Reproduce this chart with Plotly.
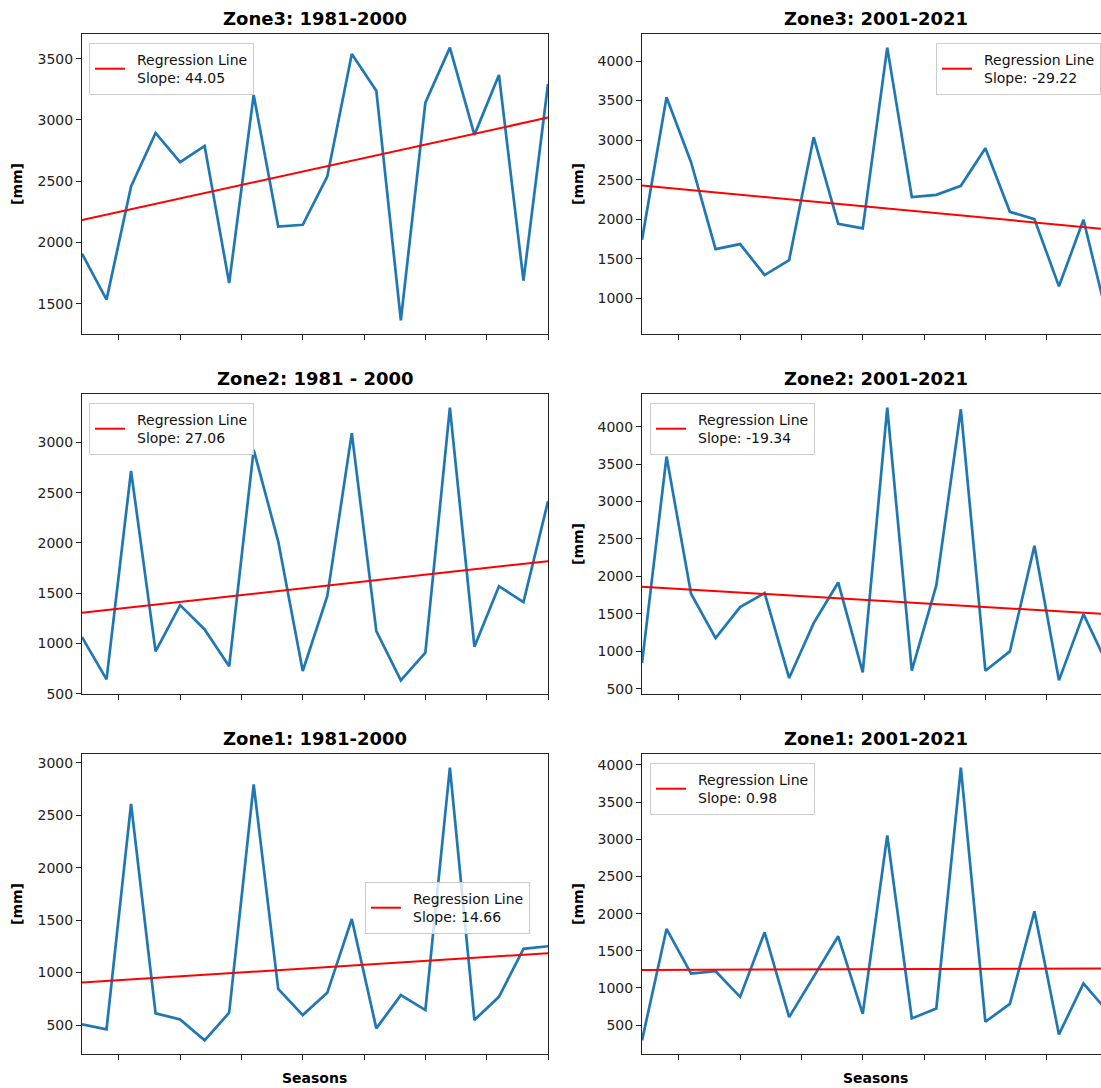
import numpy as np
import plotly.graph_objects as go

W, H = 1101, 1088


def fx(X):
    return X / W


def fy(Y):
    return 1 - Y / H


# ---------------- data ----------------
titles = ["Zone3: 1981-2000", "Zone3: 2001-2021",
          "Zone2: 1981 - 2000", "Zone2: 2001-2021",
          "Zone1: 1981-2000", "Zone1: 2001-2021"]
slopes = [44.05, -29.22, 27.06, -19.34, 14.66, 0.98]
show_ylabel = [True, True, False, True, True, True]
legend_pos = [(89, 43, "left"), (1101, 43, "right"),
              (89, 403, "left"), (650, 403, "left"),
              (365, 882, "left"), (650, 763, "left")]

zone3_1981_2000 = [1908, 1533, 2457, 2894, 2655, 2788, 1668, 3204, 2130, 2144,
                   2538, 3538, 3239, 1364, 3141, 3590, 2878, 3367, 1688, 3293]
zone3_2001_2021 = [1741, 3542, 2721, 1623, 1686, 1295, 1484, 3037, 1943, 1884,
                   4169, 2280, 2309, 2423, 2898, 2094, 2002, 1152, 1993, 722]
zone2_1981_2000 = [1063, 642, 2718, 920, 1381, 1139, 772, 2927, 2016, 725,
                   1470, 3093, 1122, 632, 907, 3347, 967, 1569, 1411, 2414]
zone2_2001_2021 = [842, 3600, 1768, 1176, 1590, 1777, 642, 1376, 1919, 718,
                   4254, 740, 1879, 4232, 740, 998, 2408, 611, 1496, 804]
zone1_1981_2000 = [506, 459, 2607, 611, 554, 354, 617, 2794, 845, 595,
                   807, 1511, 468, 785, 643, 2953, 548, 769, 1226, 1251]
zone1_2001_2021 = [295, 1794, 1194, 1225, 880, 1749, 607, 1149, 1695, 652,
                   3051, 590, 724, 3964, 545, 786, 2031, 375, 1060, 680]

series = [zone3_1981_2000, zone3_2001_2021, zone2_1981_2000,
          zone2_2001_2021, zone1_1981_2000, zone1_2001_2021]
x_ticks = [-1, 1.5, 4, 6.5, 9, 11.5, 14, 16.5, 19]

# ---------------- figure ----------------
FONT = "DejaVu Sans"
fig = go.Figure()
layout = dict(
    width=W, height=H,
    margin=dict(l=0, r=0, t=0, b=0),
    paper_bgcolor="white", plot_bgcolor="white",
    font=dict(family=FONT, size=14, color="#111"),
    showlegend=True,
)
annotations = []

left_dom = [fx(82), fx(548)]
right_dom = [fx(642), 1.0]
px_per_unit = (548 - 82) / 19.0
right_end = (W - 642) / px_per_unit   # right column runs past the page edge
SP = "\u2002"

for i, vals in enumerate(series):
    row, col = divmod(i, 2)
    n = i + 1
    xs = np.arange(len(vals))
    ys = np.array(vals, dtype=float)
    xa = "x" if n == 1 else f"x{n}"
    ya = "y" if n == 1 else f"y{n}"
    lg = "legend" if n == 1 else f"legend{n}"

    slope = slopes[i]
    intercept = ys.mean() - slope * xs.mean()
    reg = intercept + slope * xs

    fig.add_trace(go.Scatter(x=xs, y=ys, mode="lines", xaxis=xa, yaxis=ya,
                             line=dict(color="#1f77b4", width=2.7),
                             showlegend=False, hoverinfo="skip"))
    fig.add_trace(go.Scatter(x=xs, y=reg, mode="lines", xaxis=xa, yaxis=ya,
                             line=dict(color="red", width=2),
                             name=f"{SP}Regression Line<br>{SP}Slope: {slope:.2f}",
                             legend=lg, showlegend=True))

    top = 34 + 360 * row
    bot = top + 300
    ydom = [fy(bot), fy(top)]
    xdom = left_dom if col == 0 else right_dom
    xr = [0, len(vals) - 1] if col == 0 else [0, right_end]
    ymin, ymax = ys.min(), ys.max()
    pad = 0.05 * (ymax - ymin)

    layout["xaxis" if n == 1 else f"xaxis{n}"] = dict(
        domain=xdom, range=xr, anchor=ya,
        showline=True, linecolor="#222", linewidth=1, mirror=True,
        ticks="outside", ticklen=5, tickwidth=1, tickcolor="#222",
        tickvals=x_ticks, showticklabels=False,
        showgrid=False, zeroline=False, fixedrange=True,
    )
    layout["yaxis" if n == 1 else f"yaxis{n}"] = dict(
        domain=ydom, range=[ymin - pad, ymax + pad], anchor=xa,
        showline=True, linecolor="#222", linewidth=1, mirror=(col == 0),
        ticks="outside", ticklen=5, tickwidth=1, tickcolor="#222",
        tick0=0, dtick=500, tickfont=dict(size=14, color="#222"),
        showgrid=False, zeroline=False, automargin=False, fixedrange=True,
    )

    lx, ly, anch = legend_pos[i]
    layout[lg] = dict(
        x=fx(lx), y=fy(ly),
        xanchor=anch, yanchor="top",
        bgcolor="rgba(255,255,255,0.8)", bordercolor="#cccccc", borderwidth=1,
        font=dict(family=FONT, size=14, color="#111"),
        itemwidth=30,
    )

    cx = (82 + 548) / 2 if col == 0 else (642 + 1109) / 2
    annotations.append(dict(
        text=f"<b>{titles[i]}</b>", x=fx(cx), y=fy(18 + 360 * row),
        xref="paper", yref="paper", xanchor="center", yanchor="middle",
        showarrow=False, font=dict(family=FONT, size=18, color="black")))
    if show_ylabel[i]:
        annotations.append(dict(
            text="<b>[mm]</b>", x=fx(17 if col == 0 else 578),
            y=fy(top + 150), xref="paper", yref="paper",
            xanchor="center", yanchor="middle", textangle=-90,
            showarrow=False, font=dict(family=FONT, size=14, color="black")))
    if row == 2:
        annotations.append(dict(
            text="<b>Seasons</b>", x=fx(314 if col == 0 else 875),
            y=fy(1078), xref="paper", yref="paper",
            xanchor="center", yanchor="middle",
            showarrow=False, font=dict(family=FONT, size=14, color="black")))

layout["annotations"] = annotations
fig.update_layout(**layout)
fig.write_html("out.html",
               config={"displayModeBar": False},
               post_script="document.body.style.margin='0px';"
                           "document.body.style.overflow='hidden';")
